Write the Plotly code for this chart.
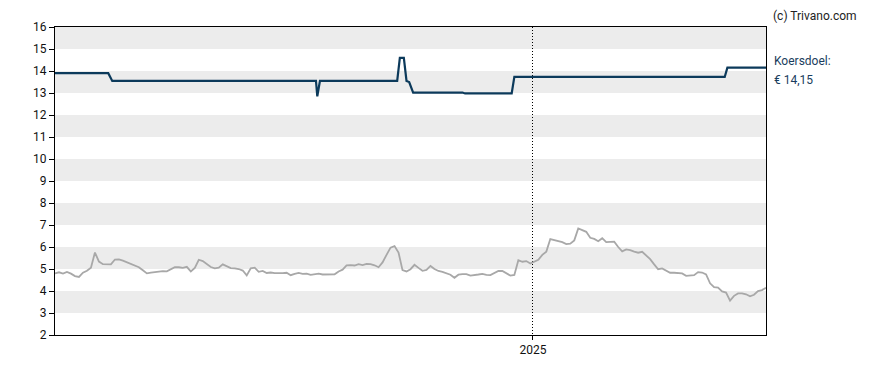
import pandas as pd
import plotly.graph_objects as go

# Koers (price) sampled every 3 days from 2024-01-08
price_start = "2024-01-08"
price_values = [
    4.80, 4.85, 4.79, 4.87, 4.79, 4.68, 4.64, 4.83, 4.92, 5.06,
    5.75, 5.34, 5.22, 5.20, 5.21, 5.43, 5.44, 5.38, 5.30, 5.25,
    5.17, 5.08, 4.94, 4.80, 4.84, 4.87, 4.87, 4.90, 4.89, 4.97,
    5.08, 5.08, 5.05, 5.10, 4.89, 5.05, 5.42, 5.36, 5.21, 5.09,
    5.03, 5.06, 5.21, 5.11, 5.04, 5.03, 5.00, 4.93, 4.71, 5.03,
    5.06, 4.87, 4.91, 4.82, 4.84, 4.81, 4.80, 4.81, 4.83, 4.72,
    4.78, 4.82, 4.78, 4.79, 4.73, 4.75, 4.79, 4.75, 4.76, 4.78,
    4.76, 4.89, 4.97, 5.16, 5.18, 5.16, 5.22, 5.18, 5.23, 5.22,
    5.17, 5.08, 5.30, 5.64, 5.97, 6.04, 5.75, 4.95, 4.89, 4.99,
    5.19, 5.05, 4.92, 4.96, 5.14, 5.00, 4.91, 4.87, 4.82, 4.74,
    4.60, 4.74, 4.77, 4.77, 4.70, 4.71, 4.75, 4.78, 4.73, 4.72,
    4.80, 4.91, 4.91, 4.79, 4.70, 4.73, 5.40, 5.33, 5.36, 5.25,
    5.32, 5.42, 5.64, 5.79, 6.36, 6.32, 6.29, 6.22, 6.13, 6.15,
    6.30, 6.84, 6.77, 6.69, 6.42, 6.37, 6.26, 6.40, 6.22, 6.23,
    6.24, 6.00, 5.80, 5.89, 5.86, 5.79, 5.74, 5.78, 5.61, 5.45,
    5.21, 4.99, 5.03, 4.92, 4.83, 4.83, 4.80, 4.80, 4.69, 4.69,
    4.72, 4.86, 4.84, 4.75, 4.35, 4.17, 4.15, 3.98, 3.93, 3.56,
    3.78, 3.89, 3.89, 3.85, 3.76, 3.83, 4.00, 4.04, 4.15,
]
price_dates = pd.date_range(price_start, periods=len(price_values), freq="3D")

# Koersdoel (target price)
target_dates = [
    "2024-01-08", "2024-02-17", "2024-02-20", "2024-07-22", "2024-07-23",
    "2024-07-25", "2024-09-21", "2024-09-23", "2024-09-26", "2024-09-28",
    "2024-09-30", "2024-10-03", "2024-11-09", "2024-11-11", "2024-12-16",
    "2024-12-18", "2025-05-25", "2025-05-27", "2025-06-25",
]
target_values = [
    13.90, 13.90, 13.55, 13.55, 12.85,
    13.55, 13.55, 14.60, 14.60, 13.55,
    13.50, 13.02, 13.02, 12.98, 12.98,
    13.73, 13.73, 14.15, 14.15,
]

y_ticks = list(range(2, 17))
x_tick_vals = ["2025-01-01"]
x_tick_text = ["2025"]
band_ranges = [(15, 16), (13, 14), (11, 12), (9, 10), (7, 8), (5, 6), (3, 4)]

fig = go.Figure()
fig.add_trace(go.Scatter(
    x=price_dates, y=price_values, mode="lines",
    line=dict(color="#a8a8a8", width=1.8), hoverinfo="skip", showlegend=False,
))
fig.add_trace(go.Scatter(
    x=target_dates, y=target_values, mode="lines",
    line=dict(color="#0c3a5b", width=2.2), hoverinfo="skip", showlegend=False,
))

for lo, hi in band_ranges:
    fig.add_shape(type="rect", xref="paper", yref="y", x0=0, x1=1, y0=lo, y1=hi,
                  fillcolor="#ececec", line=dict(width=0), layer="below")

font = "Roboto, Arial, sans-serif"
fig.update_layout(
    width=888, height=370,
    margin=dict(l=47, r=130, t=12, b=43),
    paper_bgcolor="white", plot_bgcolor="white",
    font=dict(family=font, size=12, color="#111"),
    xaxis=dict(
        type="date", range=[price_dates[0], price_dates[-1]],
        tickvals=x_tick_vals, ticktext=x_tick_text,
        showgrid=True, gridcolor="#000", griddash="1px,2px", gridwidth=1,
        ticks="outside", ticklen=4, tickcolor="#000",
        showline=True, linecolor="#000", linewidth=1, mirror=True,
        zeroline=False, tickfont=dict(size=12, color="#111"),
    ),
    yaxis=dict(
        range=[2, 16], tickvals=y_ticks, ticktext=[str(v) for v in y_ticks],
        showgrid=False, zeroline=False,
        ticks="outside", ticklen=5, tickcolor="#000",
        showline=True, linecolor="#000", linewidth=1, mirror=True,
        tickfont=dict(size=12, color="#111"),
    ),
    annotations=[
        dict(text="(c) Trivano.com", xref="paper", yref="paper", x=1.007, y=1.0,
             xanchor="left", yanchor="bottom", showarrow=False,
             font=dict(size=12, color="#222", family=font), yshift=2),
        dict(text="Koersdoel:", xref="paper", yref="y", x=1.008, y=14.45,
             xanchor="left", yanchor="middle", showarrow=False,
             font=dict(size=12, color="#1a3d5d", family=font)),
        dict(text="€ 14,15", xref="paper", yref="y", x=1.008, y=13.6,
             xanchor="left", yanchor="middle", showarrow=False,
             font=dict(size=12, color="#1a3d5d", family=font)),
    ],
)

fig.write_html("out.html")
